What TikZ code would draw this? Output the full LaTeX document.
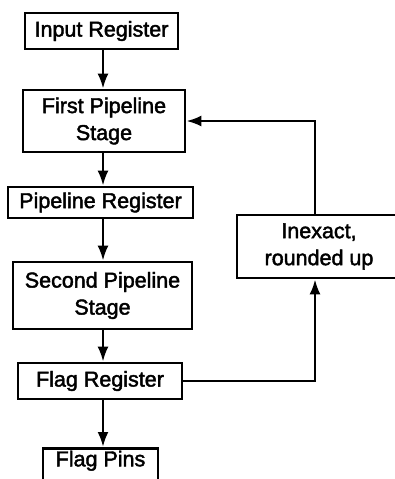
\documentclass[tikz,border=0pt]{standalone}
\usepackage{fontspec}
\setmainfont{Liberation Sans}[FakeBold=2]
\usetikzlibrary{arrows.meta}

\tikzset{
  blk/.style={draw, line width=2.6pt, inner sep=0pt, align=center,
    font=\fontsize{21.5}{27}\selectfont},
  flow/.style={line width=2.6pt, -{Latex[length=15pt,width=11pt]}}
}

\begin{document}
\begin{tikzpicture}[x=1pt,y=-1pt]
    \useasboundingbox (0,0) rectangle (395,479);
    \coordinate (spine) at (103,0);
    \node[blk, minimum width=153pt, minimum height=36pt] (input) at (101.5,31) {Input Register};
    \node[blk, minimum width=162pt, minimum height=62pt] (first) at (104,121) {First Pipeline\\Stage};
    \node[blk, minimum width=185pt, minimum height=31pt] (pipe) at (100.5,202.5) {Pipeline Register};
    \node[blk, minimum width=179pt, minimum height=67pt] (second) at (102.5,295.5) {Second Pipeline\\Stage};
    \node[blk, minimum width=164pt, minimum height=36pt] (flag) at (100,381) {Flag Register};
    \node[blk, minimum width=115pt, text height=18pt, text depth=24pt, anchor=north] (pins) at (100.5,447) {Flag Pins};
    \node[blk, minimum width=164pt, minimum height=63pt] (inexact) at (319,246.5) {Inexact,\\rounded up};
    % main pipeline
    \draw[flow] (input.south -| spine) -- (first.north -| spine);
    \draw[flow] (first.south -| spine) -- (pipe.north -| spine);
    \draw[flow] (pipe.south -| spine) -- (second.north -| spine);
    \draw[flow] (second.south -| spine) -- (flag.north -| spine);
    \draw[flow] (flag.south -| spine) -- (pins.north -| spine);
    % feedback loop
    \draw[flow] (flag.east) -| ([xshift=-4pt]inexact.south);
    \draw[flow] ([xshift=-4pt]inexact.north) |- (first.east);
\end{tikzpicture}
\end{document}
